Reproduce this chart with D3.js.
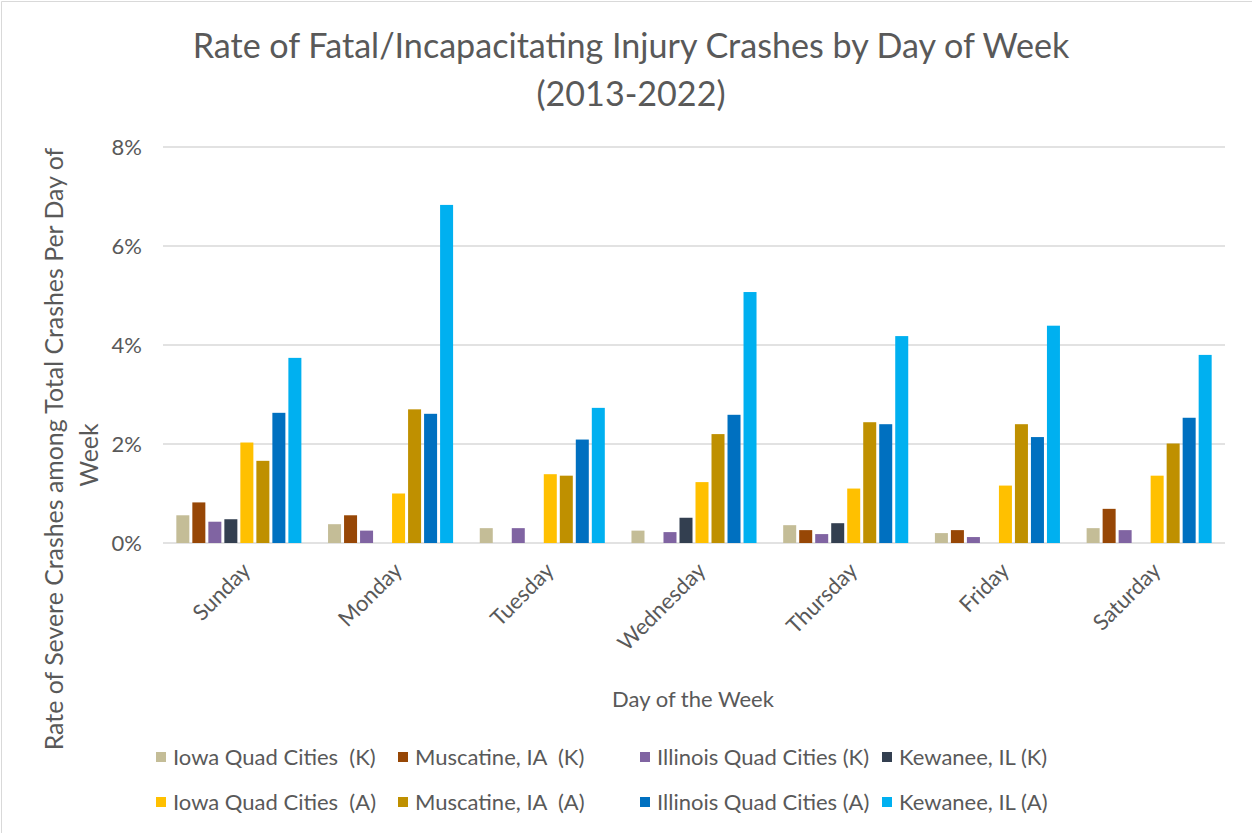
<!DOCTYPE html>
<html>
<head>
<meta charset="utf-8">
<script src="https://cdn.jsdelivr.net/npm/d3@7/dist/d3.min.js"></script>
<style>
  html, body { margin: 0; padding: 0; background: #ffffff; }
  svg { display: block; }
  text { font-family: Lato, "Open Sans", sans-serif; fill: #595959; white-space: pre; }
</style>
</head>
<body>
<svg id="chart" width="1252" height="833"></svg>
<script>
// ---------- DATA ----------
const days = ["Sunday", "Monday", "Tuesday", "Wednesday", "Thursday", "Friday", "Saturday"];
const seriesNames = [
  "Iowa Quad Cities  (K)", "Muscatine, IA  (K)", "Illinois Quad Cities (K)", "Kewanee, IL (K)",
  "Iowa Quad Cities  (A)", "Muscatine, IA  (A)", "Illinois Quad Cities (A)", "Kewanee, IL (A)"
];
const seriesColors = ["#C4BD97", "#974706", "#8064A2", "#333F50", "#FFC000", "#BF9000", "#0070C0", "#00B0F0"];
// values in percent
const iowaK = [0.56, 0.38, 0.30, 0.25, 0.36, 0.20, 0.30];
const muscatineK = [0.82, 0.56, 0, 0, 0.26, 0.26, 0.69];
const illinoisK = [0.43, 0.25, 0.30, 0.22, 0.18, 0.12, 0.26];
const kewaneeK = [0.48, 0, 0, 0.51, 0.40, 0, 0];
const iowaA = [2.03, 1.00, 1.39, 1.23, 1.10, 1.16, 1.36];
const muscatineA = [1.66, 2.70, 1.36, 2.20, 2.44, 2.40, 2.01];
const illinoisA = [2.63, 2.61, 2.09, 2.59, 2.40, 2.14, 2.53];
const kewaneeA = [3.74, 6.83, 2.73, 5.07, 4.18, 4.39, 3.80];
const yTicks = [0, 2, 4, 6, 8];
const titleLines = ["Rate of Fatal/Incapacitating Injury Crashes by Day of Week", "(2013-2022)"];
const yTitleLines = ["Rate of Severe Crashes among Total Crashes Per Day of", "Week"];
const xTitle = "Day of the Week";

const seriesValues = [iowaK, muscatineK, illinoisK, kewaneeK, iowaA, muscatineA, illinoisA, kewaneeA];
const series = seriesNames.map((name, i) => ({ name, color: seriesColors[i], values: seriesValues[i] }));

// ---------- LAYOUT ----------
const svg = d3.select("#chart");
const plot = { left: 163, right: 1225, top: 147, bottom: 543 };

// chart border (top/left)
svg.append("path")
  .attr("d", "M1.5,833 L1.5,1.5 L1252,1.5")
  .attr("fill", "none").attr("stroke", "#d9d9d9").attr("stroke-width", 1);

const x0 = d3.scaleBand().domain(days).range([plot.left, plot.right]).paddingInner(0.156).paddingOuter(0.078);
const x1 = d3.scaleBand().domain(d3.range(series.length)).range([0, x0.bandwidth()]);
const y = d3.scaleLinear().domain([0, 8]).range([plot.bottom, plot.top]);

// gridlines
svg.append("g").selectAll("line").data(yTicks).join("line")
  .attr("x1", plot.left).attr("x2", plot.right)
  .attr("y1", d => y(d)).attr("y2", d => y(d))
  .attr("stroke", "#d9d9d9").attr("stroke-width", 1.5);

// y axis labels
const yAxis = d3.axisLeft(y).tickValues(yTicks).tickFormat(d => d + "%").tickSize(0).tickPadding(0);
const yg = svg.append("g").attr("transform", `translate(142,0)`).call(yAxis);
yg.select(".domain").remove();
yg.selectAll("text").attr("font-size", 22).attr("font-family", "Lato, sans-serif").attr("fill", "#595959");

// bars
const barGap = 3;
const groups = svg.append("g").selectAll("g").data(series).join("g").attr("fill", d => d.color);
groups.each(function (s, si) {
  d3.select(this).selectAll("rect").data(s.values.map((v, di) => ({ v, day: days[di] })).filter(d => d.v > 0))
    .join("rect")
    .attr("x", d => x0(d.day) + x1(si) + barGap / 2)
    .attr("width", x1.bandwidth() - barGap)
    .attr("y", d => y(d.v))
    .attr("height", d => y(0) - y(d.v));
});

// x labels
const xAxis = d3.axisBottom(x0).tickSize(0).tickPadding(0);
const xg = svg.append("g").call(xAxis);
xg.select(".domain").remove();
xg.selectAll(".tick").attr("transform", d => `translate(${x0(d) + x0.bandwidth() / 2 + 13},572)`);
xg.selectAll(".tick text")
  .attr("font-size", 22).attr("font-family", "Lato, sans-serif").attr("fill", "#595959")
  .attr("text-anchor", "end").attr("x", 0).attr("y", 0).attr("dy", 0)
  .attr("transform", "rotate(-45)");

// title
function fitSize(sel, baseSize, target) {
  sel.attr("font-size", baseSize);
  const w = sel.node().getComputedTextLength();
  const s = baseSize * target / w;
  sel.attr("font-size", s);
  return s;
}
const t1 = svg.append("text").attr("x", 631).attr("y", 58).attr("text-anchor", "middle").text(titleLines[0]);
const ts = fitSize(t1, 28, 877);
svg.append("text").attr("x", 631).attr("y", 106).attr("text-anchor", "middle").attr("font-size", ts).text(titleLines[1]);

// y title
const yt1 = svg.append("text").attr("text-anchor", "middle")
  .attr("transform", "translate(63,449) rotate(-90)").text(yTitleLines[0]);
const ys = fitSize(yt1, 22, 603);
svg.append("text").attr("text-anchor", "middle").attr("font-size", ys)
  .attr("transform", "translate(98,455) rotate(-90)").text(yTitleLines[1]);

// x title
svg.append("text").attr("x", 693).attr("y", 707).attr("text-anchor", "middle").attr("font-size", 22).text(xTitle);

// legend
const legendColX = 155, legendColW = 242, legendRowY = [757, 802];
const leg = svg.append("g").selectAll("g").data(series).join("g")
  .attr("transform", (d, i) => `translate(${legendColX + (i % 4) * legendColW},${legendRowY[Math.floor(i / 4)]})`);
leg.append("rect").attr("x", 1).attr("y", -5).attr("width", 10).attr("height", 10).attr("fill", d => d.color);
leg.append("text").attr("x", 18).attr("y", 0).attr("dy", "0.36em").attr("font-size", 22).text(d => d.name);
</script>
</body>
</html>
